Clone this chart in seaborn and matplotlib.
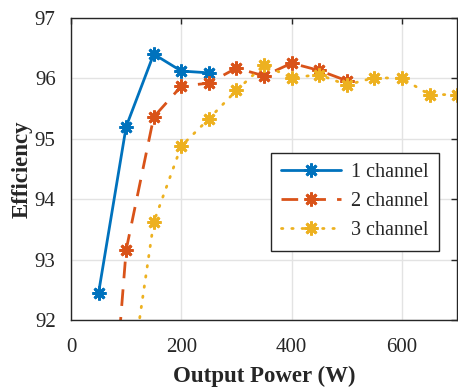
import matplotlib
matplotlib.use("Agg")
import matplotlib.pyplot as plt
import seaborn as sns
import pandas as pd

x1 = [50, 100, 150, 200, 250]
y1 = [92.45, 95.2, 96.4, 96.12, 96.09]
x2 = [50, 100, 150, 200, 250, 300, 350, 400, 450, 500]
y2 = [87.4, 93.16, 95.36, 95.87, 95.92, 96.17, 96.04, 96.25, 96.13, 95.96]
x3 = [100, 150, 200, 250, 300, 350, 400, 450, 500, 550, 600, 650, 700]
y3 = [90.5, 93.62, 94.88, 95.33, 95.8, 96.22, 96.01, 96.06, 95.89, 96.01, 96.0, 95.73, 95.73]
labels = ["1 channel", "2 channel", "3 channel"]
colors = ["#0072BD", "#D95319", "#EDB120"]

sns.set_style("white")
plt.rcParams['font.family'] = ['Liberation Serif', 'DejaVu Serif']

fig = plt.figure(figsize=(4.58, 3.88), dpi=100)
ax = fig.add_axes([0.155, 0.175, 0.843, 0.779])

d1 = pd.DataFrame({"x": x1, "y": y1})
d2 = pd.DataFrame({"x": x2, "y": y2})
d3 = pd.DataFrame({"x": x3, "y": y3})
styles = ["-", (0, (6, 4)), (0, (0.5, 3.2))]
for d, c, lab, ls in zip([d1, d2, d3], colors, labels, styles):
    sns.lineplot(data=d, x="x", y="y", ax=ax, color=c, lw=2, label=lab, linestyle=ls)

def style_marker(line, c):
    line.set_marker((8, 2, 0))
    line.set_markersize(10)
    line.set_markeredgewidth(2.0)
    line.set_markeredgecolor(c)
    line.set_markerfacecolor(c)

for line, c in zip(ax.lines, colors):
    style_marker(line, c)
ax.lines[2].set_dash_capstyle('round')

ax.set_xlim(0, 700)
ax.set_ylim(92, 97)
ax.set_xticks([0, 200, 400, 600])
ax.set_yticks([92, 93, 94, 95, 96, 97])
ax.grid(True, color="#E3E3E3", lw=1)
ax.set_axisbelow(True)
for s in ax.spines.values():
    s.set_color("#262626")
    s.set_linewidth(1)
ax.tick_params(direction="in", top=True, right=True, length=4, width=1,
               labelsize=15, colors="#262626")
ax.tick_params(axis="x", pad=13)
ax.tick_params(axis="y", pad=11)
ax.set_xlabel("Output Power (W)", fontsize=16.5, fontweight="bold", labelpad=6)
ax.set_ylabel("Efficiency", fontsize=16.5, fontweight="bold", labelpad=1.5)

leg = ax.legend(loc="upper right", bbox_to_anchor=(0.953, 0.553), fontsize=14.5,
                frameon=True, fancybox=False, edgecolor="#262626", framealpha=1,
                handlelength=3.0, borderpad=0.5, labelspacing=0.5, handletextpad=0.5,
                borderaxespad=0)
leg.get_frame().set_linewidth(1)
for h, c in zip(leg.get_lines(), colors):
    style_marker(h, c)

fig.savefig("out.png", dpi=100)
